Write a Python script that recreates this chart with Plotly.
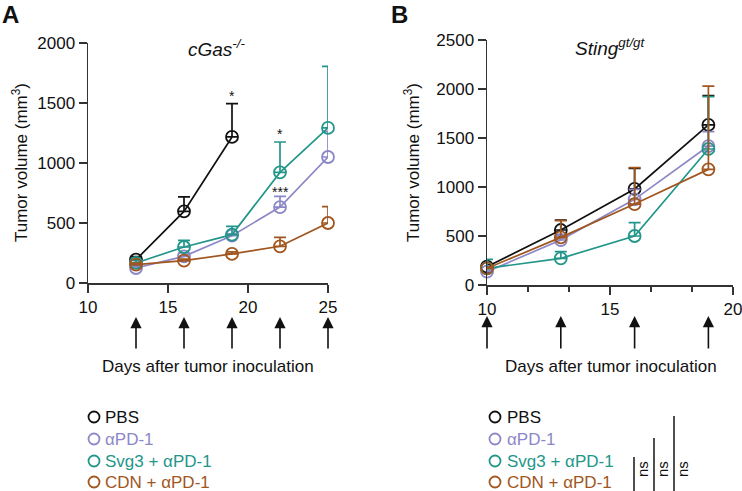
import plotly.graph_objects as go

# ---------------- data ----------------
series_names = ["PBS", "αPD-1", "Svg3 + αPD-1", "CDN + αPD-1"]
series_colors = ["#111111", "#8c87c7", "#23968a", "#a0561e"]

# Panel A (cGas-/-)
days_a_pbs = [13, 16, 19]
days_a = [13, 16, 19, 22, 25]
pbs_a = [194, 597, 1217]
pbs_a_err = [26, 120, 277]
apd1_a = [125, 222, 394, 633, 1050]
apd1_a_err = [15, 28, 16, 89, 214]
svg3_a = [167, 300, 403, 922, 1292]
svg3_a_err = [23, 55, 69, 253, 514]
cdn_a = [153, 186, 242, 306, 500]
cdn_a_err = [12, 14, 18, 74, 136]
treat_days_a = [13, 16, 19, 22, 25]

# Panel B (Sting gt/gt)
days_b = [10, 13, 16, 19]
pbs_b = [187, 561, 980, 1633]
pbs_b_err = [20, 102, 210, 299]
apd1_b = [136, 459, 874, 1418]
apd1_b_err = [15, 50, 102, 147]
svg3_b = [170, 272, 500, 1388]
svg3_b_err = [92, 68, 136, 534]
cdn_b = [170, 486, 826, 1180]
cdn_b_err = [15, 170, 371, 850]
treat_days_b = [10, 13, 16, 19]

xticks_a = [10, 15, 20, 25]
yticks_a = [0, 500, 1000, 1500, 2000]
xticks_b = [10, 15, 20]
yticks_b = [0, 500, 1000, 1500, 2000, 2500]

# ---------------- figure ----------------
W, H = 742, 491
FONT = "Arial, Liberation Sans, sans-serif"
AX = "#333333"


def px(x):
    return x / W


def py(y):
    return 1 - y / H


fig = go.Figure()

panel_a = [
    (days_a_pbs, pbs_a, pbs_a_err),
    (days_a, apd1_a, apd1_a_err),
    (days_a, svg3_a, svg3_a_err),
    (days_a, cdn_a, cdn_a_err),
]
panel_b = [
    (days_b, pbs_b, pbs_b_err),
    (days_b, apd1_b, apd1_b_err),
    (days_b, svg3_b, svg3_b_err),
    (days_b, cdn_b, cdn_b_err),
]

for (xs, ys, es), name, col in zip(panel_a, series_names, series_colors):
    fig.add_trace(go.Scatter(
        x=xs, y=ys, mode="lines+markers", name=name, showlegend=False,
        line=dict(color=col, width=1.7),
        marker=dict(symbol="circle-open", size=12, color=col, line=dict(width=1.8, color=col)),
        error_y=dict(type="data", symmetric=False, array=es, arrayminus=[0] * len(es),
                     color=col, thickness=1.7, width=6),
        cliponaxis=False, xaxis="x", yaxis="y"))

for (xs, ys, es), name, col in zip(panel_b, series_names, series_colors):
    fig.add_trace(go.Scatter(
        x=xs, y=ys, mode="lines+markers", name=name, showlegend=False,
        line=dict(color=col, width=1.7),
        marker=dict(symbol="circle-open", size=12, color=col, line=dict(width=1.8, color=col)),
        error_y=dict(type="data", symmetric=False, array=es, arrayminus=[0] * len(es),
                     color=col, thickness=1.7, width=6),
        cliponaxis=False, xaxis="x2", yaxis="y2"))

axis_common = dict(showgrid=False, zeroline=False, showline=True, linecolor=AX, linewidth=1.5,
                   ticks="outside", ticklen=8, tickwidth=1.5, tickcolor=AX, automargin=False,
                   ticklabeloverflow="allow",
                   tickfont=dict(family=FONT, size=17, color="#111111"), fixedrange=True)

fig.update_layout(
    template="none",
    width=W, height=H, autosize=False,
    margin=dict(l=0, r=0, t=0, b=0, pad=0),
    paper_bgcolor="white", plot_bgcolor="white",
    showlegend=False, hovermode=False,
    font=dict(family=FONT, size=17, color="#111111"),
    xaxis=dict(domain=[px(88), px(328)], range=[10, 25], tickvals=xticks_a, anchor="y", **axis_common),
    yaxis=dict(domain=[py(283), py(43)], range=[0, 2000], tickvals=yticks_a, anchor="x", **axis_common),
    xaxis2=dict(domain=[px(487), px(733)], range=[10, 20], tickvals=xticks_b, anchor="y2",
                minor=dict(tick0=10, dtick=5 / 3, ticks="outside", ticklen=5, tickwidth=1.5, tickcolor=AX),
                **axis_common),
    yaxis2=dict(domain=[py(285), py(40)], range=[0, 2500], tickvals=yticks_b, anchor="x2", **axis_common),
)

ann = []
# panel letters
ann.append(dict(text="<b>A</b>", x=px(0), y=py(-1), xref="paper", yref="paper", xanchor="left", yanchor="top",
                showarrow=False, font=dict(size=24, family=FONT, color="#111111")))
ann.append(dict(text="<b>B</b>", x=px(389), y=py(-1), xref="paper", yref="paper", xanchor="left", yanchor="top",
                showarrow=False, font=dict(size=24, family=FONT, color="#111111")))
# titles
ann.append(dict(text="<i>cGas<sup>-/-</sup></i>", x=px(216), y=py(48), xref="paper", yref="paper",
                xanchor="center", yanchor="middle", showarrow=False, font=dict(size=19, family=FONT)))
ann.append(dict(text="<i>Sting<sup>gt/gt</sup></i>", x=px(610), y=py(47), xref="paper", yref="paper",
                xanchor="center", yanchor="middle", showarrow=False, font=dict(size=19, family=FONT)))
# y titles
for xc, yc in [(20, 163), (412, 163)]:
    ann.append(dict(text="Tumor volume (mm<sup>3</sup>)", x=px(xc), y=py(yc), xref="paper", yref="paper",
                    xanchor="center", yanchor="middle", textangle=-90, showarrow=False,
                    font=dict(size=17, family=FONT)))
# x titles
for xc in [208, 611]:
    ann.append(dict(text="Days after tumor inoculation", x=px(xc), y=py(366), xref="paper", yref="paper",
                    xanchor="center", yanchor="middle", showarrow=False, font=dict(size=17, family=FONT)))
# treatment arrows
for d in treat_days_a:
    ann.append(dict(text="", x=d, y=py(317), xref="x", yref="paper", showarrow=True, ax=0, ay=33,
                    arrowhead=2, arrowsize=1.4, arrowwidth=1.6, arrowcolor="#111111"))
for d in treat_days_b:
    ann.append(dict(text="", x=d, y=py(316), xref="x2", yref="paper", showarrow=True, ax=0, ay=34,
                    arrowhead=2, arrowsize=1.4, arrowwidth=1.6, arrowcolor="#111111"))
# significance stars (panel A)
stars = [("*", 19, 1560), ("*", 22, 1240), ("***", 22, 755)]
for s, xd, yd in stars:
    ann.append(dict(text=s, x=xd, y=yd, xref="x", yref="y", xanchor="center", yanchor="middle",
                    showarrow=False, font=dict(size=14, family=FONT, color="#111111")))

# legends
rows = [417, 439, 461, 482]
shapes = []
for (cx, tx) in [(94, 103), (495, 505)]:
    for name, col, ry in zip(series_names, series_colors, rows):
        shapes.append(dict(type="circle", xref="paper", yref="paper", xsizemode="pixel", ysizemode="pixel",
                           xanchor=px(cx), yanchor=py(ry), x0=-5.5, x1=5.5, y0=-5.5, y1=5.5,
                           line=dict(color=col, width=1.8)))
        ann.append(dict(text=name, x=px(tx), y=py(ry), xref="paper", yref="paper", xanchor="left",
                        yanchor="middle", showarrow=False, font=dict(size=17, family=FONT, color=col)))

# ns bars (panel B)
ns_bars = [(634, 457), (654, 438), (674, 416)]
for bx, top in ns_bars:
    shapes.append(dict(type="line", xref="paper", yref="paper", x0=px(bx), x1=px(bx), y0=py(top), y1=py(495),
                       line=dict(color="#222222", width=1.6)))
    ann.append(dict(text="ns", x=px(bx + 8), y=py(469), xref="paper", yref="paper", xanchor="center",
                    yanchor="middle", textangle=-90, showarrow=False, font=dict(size=15, family=FONT)))

fig.update_layout(annotations=ann, shapes=shapes)
# remove the default page margin so the 742x491 figure fills the window exactly
fig.write_html("out.html", config={"displayModeBar": False, "staticPlot": True},
               post_script="document.body.style.margin='0';document.body.style.overflow='hidden';")
